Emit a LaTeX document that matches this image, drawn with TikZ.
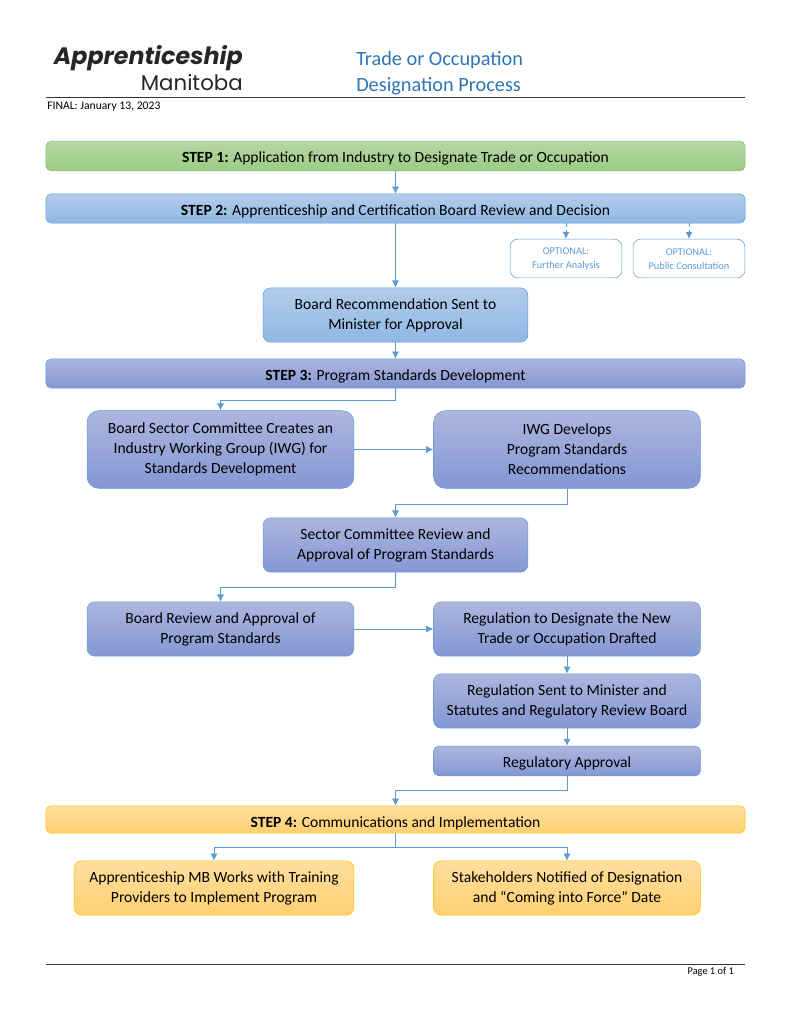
\documentclass[tikz,border=0pt]{standalone}
\usepackage{fontspec}
\setmainfont{Carlito}
\newfontfamily\logoheavy{Poppins}
\newfontfamily\logolight{Poppins}
\usetikzlibrary{positioning}
\usetikzlibrary{arrows.meta}
\definecolor{linkblue}{HTML}{5B9BD5}
\definecolor{titleblue}{HTML}{2E75B6}
\tikzset{
	textdrop/.style={execute at begin node={\rule{0pt}{#1}}},
	basebox/.style={rounded corners=4pt, align=center, inner sep=0pt, text=black, font=\fontsize{12.05}{15.5}\selectfont, textdrop=12.5pt},
	twolines/.style={rounded corners=6pt, textdrop=18pt},
	threelines/.style={rounded corners=9pt, textdrop=15.5pt},
	greenbox/.style={basebox, draw={rgb,255:red,136;green,190;blue,106}, top color={rgb,255:red,183;green,215;blue,168}, bottom color={rgb,255:red,156;green,203;blue,130}},
	lightbox/.style={basebox, draw=linkblue, top color={rgb,255:red,178;green,204;blue,234}, bottom color={rgb,255:red,143;green,184;blue,228}},
	darkbox/.style={basebox, draw=linkblue, top color={rgb,255:red,172;green,182;blue,222}, bottom color={rgb,255:red,132;green,151;blue,212}},
	orangebox/.style={basebox, draw={rgb,255:red,255;green,192;blue,0}, top color={rgb,255:red,255;green,222;blue,158}, bottom color={rgb,255:red,255;green,208;blue,113}},
	optbox/.style={basebox, rounded corners=6pt, draw=linkblue, fill=white, text=linkblue, font=\fontsize{8}{11}\selectfont, textdrop=17pt},
	flow/.style={draw=linkblue, line width=0.6pt, -{Latex[length=5.5pt, width=5.5pt]}},
	optflow/.style={flow, densely dashed},
	rule/.style={draw=black!80, line width=0.6pt}
}
\begin{document}
\begin{tikzpicture}[x=0.7737pt, y=-0.7737pt]
	\useasboundingbox (0, 0) rectangle (791, 1024);
	% page head
	\node at (243, 58) [anchor=east, inner sep=0pt, font=\logoheavy\fontsize{18.4}{18.4}\selectfont\bfseries\itshape, text=black!85] (logotop) {Apprenticeship};
	\node at (243, 82) [anchor=east, inner sep=0pt, font=\logolight\fontsize{16.5}{16.5}\selectfont, text=black!85] (logobottom) {Manitoba};
	\node at (356, 60) [anchor=west, inner sep=0pt, text=titleblue, font=\fontsize{15.7}{15.7}\selectfont] (titleone) {Trade or Occupation};
	\node at (356, 86) [anchor=west, inner sep=0pt, text=titleblue, font=\fontsize{15.7}{15.7}\selectfont] (titletwo) {Designation Process};
	\coordinate (headleft) at (46, 97);
	\coordinate (headright) at (745, 97);
	\draw [rule] (headleft) -- (headright);
	\node at (47, 107) [anchor=west, inner sep=0pt, font=\fontsize{9}{9}\selectfont] (final) {FINAL: January 13, 2023};
	% steps and boxes
	\node at (395.5, 156) [greenbox, minimum width=541pt, minimum height=23pt] (step1) {\textbf{STEP 1:} Application from Industry to Designate Trade or Occupation};
	\node at (395.5, 208.5) [lightbox, minimum width=541pt, minimum height=22.5pt] (step2) {\textbf{STEP 2:} Apprenticeship and Certification Board Review and Decision};
	\node at (566, 258.5) [optbox, minimum width=86.5pt, minimum height=30pt] (opt1) {OPTIONAL:\\Further Analysis};
	\node at (689, 258.5) [optbox, minimum width=86.5pt, minimum height=30pt] (opt2) {OPTIONAL:\\Public Consultation};
	\node at (395.5, 315) [lightbox, twolines, minimum width=205pt, minimum height=42pt] (rec) {Board Recommendation Sent to\\Minister for Approval};
	\node at (395.5, 373.5) [darkbox, minimum width=541pt, minimum height=22.5pt] (step3) {\textbf{STEP 3:} Program Standards Development};
	\node at (220.5, 449.5) [darkbox, threelines, minimum width=206.5pt, minimum height=60pt] (sector) {Board Sector Committee Creates an\\Industry Working Group (IWG) for\\Standards Development};
	\node at (567, 449.5) [darkbox, threelines, minimum width=206.5pt, minimum height=60pt] (iwg) {IWG Develops\\Program Standards\\Recommendations};
	\node at (395.5, 545) [darkbox, twolines, minimum width=205pt, minimum height=42pt] (review) {Sector Committee Review and\\Approval of Program Standards};
	\node at (220.5, 629) [darkbox, twolines, minimum width=206.5pt, minimum height=42pt] (board) {Board Review and Approval of\\Program Standards};
	\node at (567, 629) [darkbox, twolines, minimum width=206.5pt, minimum height=42pt] (draft) {Regulation to Designate the New\\Trade or Occupation Drafted};
	\node at (567, 701) [darkbox, twolines, minimum width=206.5pt, minimum height=42pt] (sent) {Regulation Sent to Minister and\\Statutes and Regulatory Review Board};
	\node at (567, 761) [darkbox, minimum width=206.5pt, minimum height=23pt] (approval) {Regulatory Approval};
	\node at (395.5, 819.5) [orangebox, minimum width=541pt, minimum height=21pt, textdrop=14.5pt] (step4) {\textbf{STEP 4:} Communications and Implementation};
	\node at (214, 888) [orangebox, twolines, minimum width=216.5pt, minimum height=42pt] (training) {Apprenticeship MB Works with Training\\Providers to Implement Program};
	\node at (567, 888) [orangebox, twolines, minimum width=206.5pt, minimum height=42pt] (notice) {Stakeholders Notified of Designation\\and “Coming into Force” Date};
	% bends
	\coordinate (bend3) at (395.5, 400);
	\coordinate (bendiwg) at (567, 504);
	\coordinate (bendreview) at (395.5, 587);
	\coordinate (bendappr) at (567, 790);
	\coordinate (bend4) at (395.5, 847);
	% connectors
	\draw [flow] (step1) -- (step2);
	\draw [flow] (step2) -- (rec);
	\draw [optflow] (step2.south -| opt1.north) -- (opt1.north);
	\draw [optflow] (step2.south -| opt2.north) -- (opt2.north);
	\draw [flow] (rec) -- (step3);
	\draw [flow] (step3.south) -- (bend3) -| (sector.north);
	\draw [flow] (sector) -- (iwg);
	\draw [flow] (iwg.south) -- (bendiwg) -| (review.north);
	\draw [flow] (review.south) -- (bendreview) -| (board.north);
	\draw [flow] (board) -- (draft);
	\draw [flow] (draft) -- (sent);
	\draw [flow] (sent) -- (approval);
	\draw [flow] (approval.south) -- (bendappr) -| (step4.north);
	\draw [flow] (step4.south) -- (bend4) -| (training.north);
	\draw [flow] (bend4) -| (notice.north);
	% page foot
	\coordinate (footleft) at (46, 964);
	\coordinate (footright) at (745, 964);
	\draw [rule] (footleft) -- (footright);
	\node at (734, 972) [anchor=east, inner sep=0pt, font=\fontsize{8}{8}\selectfont] (page) {Page 1 of 1};
\end{tikzpicture}
\end{document}
